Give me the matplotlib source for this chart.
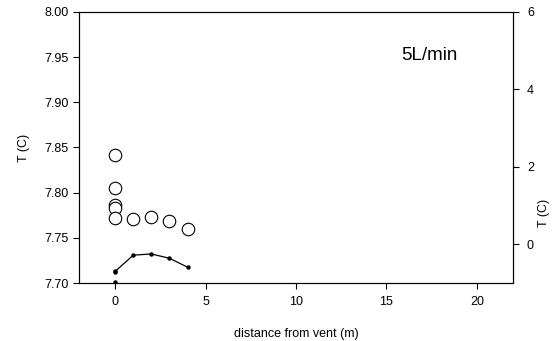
import matplotlib.pyplot as plt

plt.rcParams['font.family'] = ['Liberation Sans', 'DejaVu Sans']

# temperature (left axis), open circles
dist_t = [0, 0, 0, 0, 0, 1, 2, 3, 4]
temp_t = [7.842, 7.805, 7.786, 7.783, 7.772, 7.771, 7.773, 7.769, 7.760]

# temperature (right axis), small dots joined by a line
dist_l = [0, 1, 2, 3, 4]
temp_l = [-0.70, -0.28, -0.25, -0.36, -0.59]
dist_extra = [0, 0]
temp_extra = [-0.72, -0.98]

fig = plt.figure(figsize=(5.54, 3.41), dpi=100)
ax = fig.add_axes([0.1426, 0.170, 0.7834, 0.795])
ax.plot(dist_t, temp_t, 'o', ms=9, mfc='white', mec='black', mew=0.8, ls='none', zorder=3)
ax.set_xlim(-2, 22)
ax.set_ylim(7.70, 8.00)
ax.set_xticks([0, 5, 10, 15, 20])
ax.set_yticks([7.70, 7.75, 7.80, 7.85, 7.90, 7.95, 8.00])
ax.set_yticklabels(['%.2f' % v for v in ax.get_yticks()])
ax.set_xlabel('distance from vent (m)', fontsize=9, labelpad=15)
ax.set_ylabel('T (C)', fontsize=9, labelpad=10)
ax.tick_params(labelsize=9, length=4, width=0.8, direction='out')
ax.tick_params(axis='x', pad=5)

ax2 = ax.twinx()
ax2.plot(dist_l, temp_l, '-', color='black', lw=0.9, marker='o', ms=2.2)
ax2.plot(dist_extra, temp_extra, 'o', color='black', ms=2.2, ls='none')
ax2.set_ylim(-1, 6)
ax2.set_yticks([0, 2, 4, 6])
ax2.set_ylabel('T (C)', fontsize=9)
ax2.yaxis.set_label_coords(1.058, 0.26)
ax2.tick_params(labelsize=9, length=4, width=0.8, direction='out', pad=6)

for a in (ax, ax2):
    for s in a.spines.values():
        s.set_linewidth(0.8)

ax.text(17.4, 7.952, '5L/min', fontsize=13.5, ha='center', va='center')

fig.savefig('out.png', dpi=100)
